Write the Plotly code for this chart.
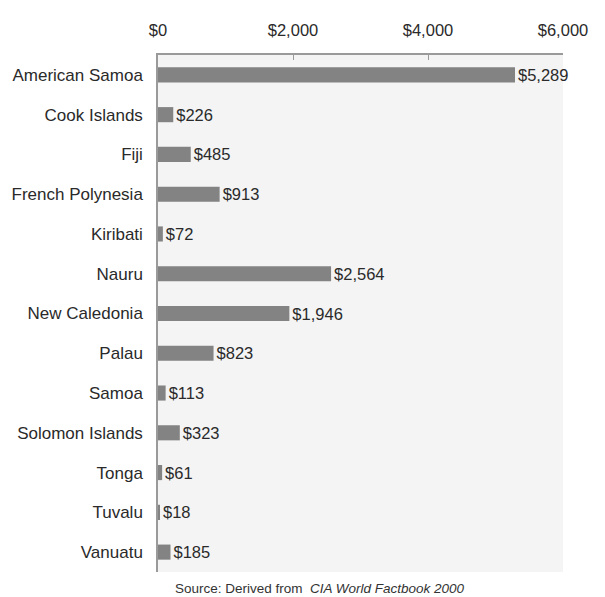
import plotly.graph_objects as go

countries = ["American Samoa", "Cook Islands", "Fiji", "French Polynesia", "Kiribati",
             "Nauru", "New Caledonia", "Palau", "Samoa", "Solomon Islands",
             "Tonga", "Tuvalu", "Vanuatu"]
values = [5289, 226, 485, 913, 72, 2564, 1946, 823, 113, 323, 61, 18, 185]
tick_vals = [0, 2000, 4000, 6000]
tick_text = ["$0", "$2,000", "$4,000", "$6,000"]

labels = ["${:,}".format(v) for v in values]
FONT = "Liberation Sans, Arial, sans-serif"

fig = go.Figure(go.Bar(
    x=values, y=countries, orientation="h",
    marker=dict(color="#838383", line=dict(width=0)),
    width=0.38,
    text=labels, textposition="outside", constraintext="none",
    textfont=dict(family=FONT, size=16.5, color="#2a2a2a"),
    cliponaxis=False,
))

fig.update_layout(
    width=605, height=597,
    margin=dict(l=158, r=42, t=55, b=25, autoexpand=False),
    paper_bgcolor="white", plot_bgcolor="#f4f4f4",
    showlegend=False,
    font=dict(family=FONT, size=16.5, color="#2a2a2a"),
    xaxis=dict(side="top", range=[0, 6000], tickvals=tick_vals, ticktext=tick_text,
               showgrid=False, zeroline=False, showline=True, linecolor="#9a9a9a",
               linewidth=1.5, ticks="inside", ticklen=5, tickcolor="#9a9a9a",
               ticklabelstandoff=11, tickfont=dict(family=FONT, size=16.5, color="#2a2a2a")),
    yaxis=dict(autorange="reversed", showgrid=False, zeroline=False, showline=True,
               linecolor="#9a9a9a", linewidth=1.5, ticks="", ticklabelstandoff=10,
               tickfont=dict(family=FONT, size=17, color="#2a2a2a")),
    annotations=[dict(x=0.4, y=-0.031, xref="paper", yref="paper", xanchor="center",
                      yanchor="middle", showarrow=False,
                      text="Source: Derived from  <i>CIA World Factbook 2000</i>",
                      font=dict(family=FONT, size=13.5, color="#333333"))],
)

fig.write_html("out.html", config={"displayModeBar": False},
               post_script="document.body.style.margin='0';")
